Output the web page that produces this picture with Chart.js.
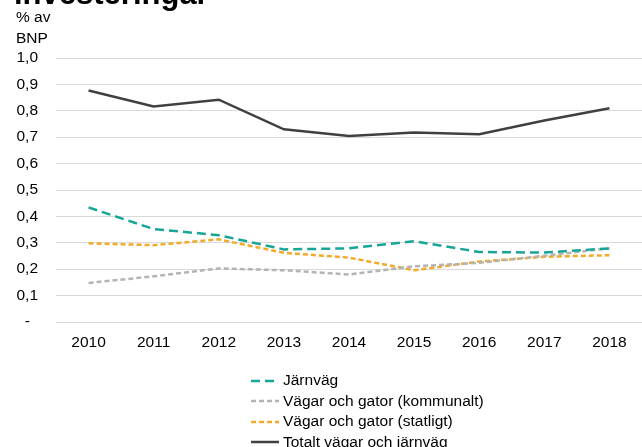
<!DOCTYPE html>
<html>
<head>
<meta charset="utf-8">
<script src="https://cdn.jsdelivr.net/npm/chart.js@4/dist/chart.umd.min.js"></script>
<style>
  body { margin: 0; background: #fff; font-family: "Liberation Sans", Arial, sans-serif; }
  #wrap { position: relative; width: 642px; height: 447px; overflow: hidden; }
  #title { position: absolute; left: 14px; top: -21px; font-size: 31px; line-height: 30px; font-weight: bold; color: #000; white-space: nowrap; }
  #unit { position: absolute; left: 16px; top: 6px; font-size: 15.5px; line-height: 21px; color: #000; }
  #legend { position: absolute; left: 251px; top: 370px; font-size: 15.5px; color: #000; }
  #legend div { height: 20.5px; line-height: 20.5px; white-space: nowrap; }
  #legend svg { vertical-align: middle; margin-right: 4px; }
</style>
</head>
<body>
<div id="wrap">
  <div id="title">investeringar</div>
  <div id="unit">% av<br>BNP</div>
  <canvas id="myChart" width="642" height="447"></canvas>
  <div id="legend"></div>
</div>
<script>
const years = ['2010', '2011', '2012', '2013', '2014', '2015', '2016', '2017', '2018'];
const jarnvag = [0.434, 0.352, 0.329, 0.275, 0.279, 0.306, 0.265, 0.263, 0.279];
const kommunalt = [0.148, 0.173, 0.203, 0.196, 0.180, 0.211, 0.224, 0.251, 0.279];
const statligt = [0.298, 0.291, 0.313, 0.262, 0.244, 0.196, 0.229, 0.247, 0.253];
const totalt = [0.877, 0.816, 0.842, 0.730, 0.705, 0.718, 0.711, 0.763, 0.810];

const seriesNames = ['Järnväg', 'Vägar och gator (kommunalt)', 'Vägar och gator (statligt)', 'Totalt vägar och järnväg'];
const seriesColors = ['#17a596', '#b4b4b4', '#f2aa2a', '#404040'];
const seriesDash = [[9, 5], [5, 3], [5, 3], []];
const seriesValues = [jarnvag, kommunalt, statligt, totalt];

const datasets = [];
for (let i = 0; i < seriesNames.length; i++) {
  datasets.push({
    label: seriesNames[i],
    data: seriesValues[i],
    borderColor: seriesColors[i],
    borderWidth: 2.5,
    borderDash: seriesDash[i],
    pointRadius: 0,
    tension: 0,
    fill: false
  });
}

const ctx = document.getElementById('myChart');

new Chart(ctx, {
  type: 'line',
  data: { labels: years, datasets: datasets },
  options: {
    responsive: false,
    animation: false,
    layout: { padding: { top: 58, right: 0, bottom: 80, left: 0 } },
    plugins: { legend: { display: false }, tooltip: { enabled: false } },
    scales: {
      x: {
        offset: true,
        grid: { display: false, drawTicks: false },
        border: { display: false },
        ticks: { color: '#000', font: { family: 'Liberation Sans', size: 15.5 }, padding: 11, maxRotation: 0 },
        afterFit: function (scale) { scale.height = 45; }
      },
      y: {
        min: 0,
        max: 1,
        grid: { color: '#d9d9d9', lineWidth: 1, drawTicks: false },
        border: { display: false },
        ticks: {
          stepSize: 0.1,
          color: '#000',
          crossAlign: 'center',
          padding: 18,
          font: { family: 'Liberation Sans', size: 15.5 },
          callback: function (v) {
            if (Math.abs(v) < 1e-9) return '-';
            return v.toFixed(1).replace('.', ',');
          }
        },
        afterFit: function (scale) { scale.width = 56; }
      }
    }
  }
});

// legend built from the datasets
const legend = document.getElementById('legend');
datasets.forEach(function (d) {
  const row = document.createElement('div');
  const dash = d.borderDash.length ? d.borderDash.join(' ') : 'none';
  row.innerHTML = '<svg width="28" height="6"><line x1="0" y1="3" x2="28" y2="3" stroke="' + d.borderColor +
    '" stroke-width="2.5" stroke-dasharray="' + dash + '"/></svg>';
  row.appendChild(document.createTextNode(d.label));
  legend.appendChild(row);
});
</script>
</body>
</html>
